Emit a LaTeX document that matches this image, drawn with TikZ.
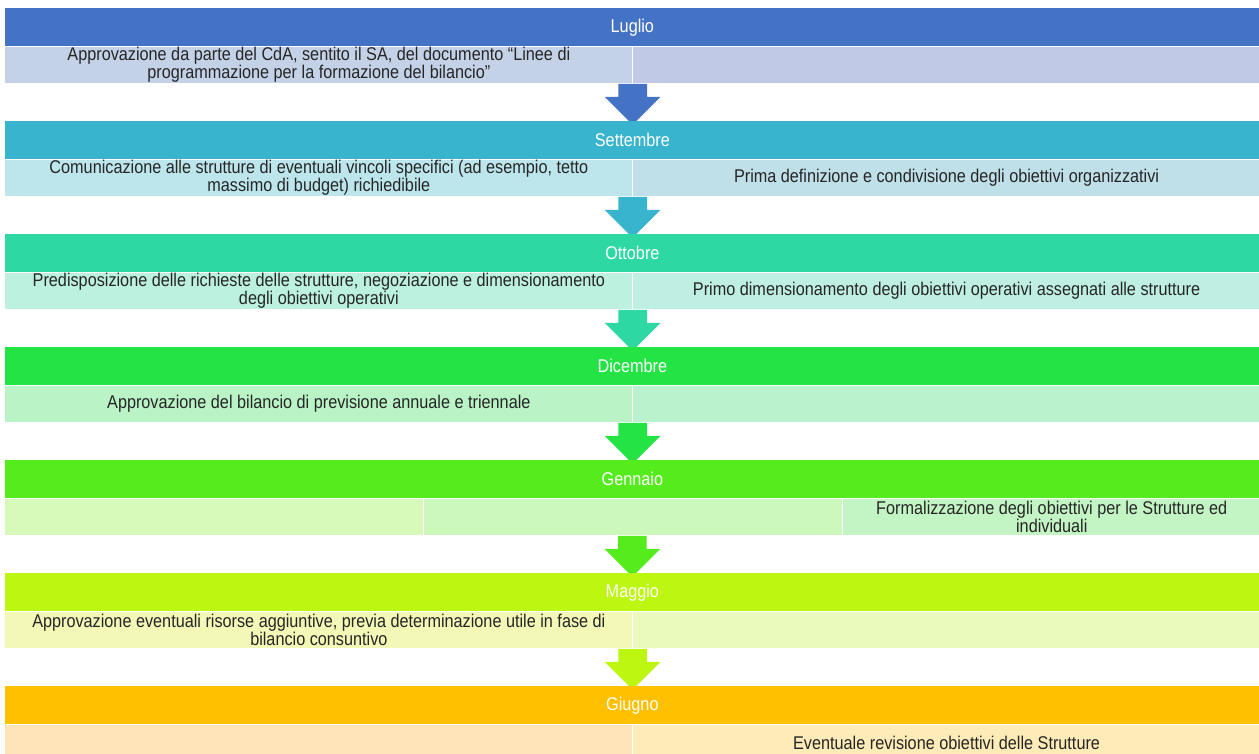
\documentclass[tikz,border=0pt]{standalone}
\usepackage{fontspec}
\setmainfont{Liberation Sans}[FakeStretch=0.88]
\usetikzlibrary{positioning, shapes.arrows}

\definecolor{lugBand}{HTML}{4472C4}
\definecolor{lugA}{HTML}{C4D2E8}
\definecolor{lugB}{HTML}{C0CAE6}
\definecolor{setBand}{HTML}{38B4CE}
\definecolor{setA}{HTML}{BCE6EC}
\definecolor{setB}{HTML}{BFDFE9}
\definecolor{ottBand}{HTML}{2ED8A3}
\definecolor{ottA}{HTML}{BDF1DF}
\definecolor{ottB}{HTML}{BEEFE2}
\definecolor{dicBand}{HTML}{24E445}
\definecolor{dicA}{HTML}{BAF3C5}
\definecolor{dicB}{HTML}{BBF2CE}
\definecolor{genBand}{HTML}{55EC1E}
\definecolor{genA}{HTML}{D7F9BA}
\definecolor{genB}{HTML}{CCF8BC}
\definecolor{genC}{HTML}{C3F5C4}
\definecolor{magBand}{HTML}{BDF611}
\definecolor{magA}{HTML}{F3F8B6}
\definecolor{magB}{HTML}{EAF9BC}
\definecolor{giuBand}{HTML}{FFC000}
\definecolor{giuA}{HTML}{FFE3B9}
\definecolor{giuB}{HTML}{FDEBB8}

\begin{document}
\begin{tikzpicture}[x=0.2mm, y=-0.2mm,
    % month bands and the cells below them
    band/.style={anchor=north west, minimum width=250.8mm, minimum height=7.6mm, inner sep=0pt, text=white, font=\fontsize{10.5}{10.2}\selectfont},
    cell/.style={anchor=north west, minimum height=7.2mm, inner sep=0pt, align=center, text=black!85, font=\fontsize{10.5}{10.2}\selectfont},
    half/.style={cell, minimum width=125.4mm},
    third/.style={cell, minimum width=83.6mm},
    % block arrow between two months
    darrow/.style={single arrow, rotate=-90, anchor=tail, minimum height=8.2mm, minimum width=11mm, single arrow head extend=2.7mm, inner xsep=0pt, inner ysep=2.8mm}]

\useasboundingbox (0,0) rectangle (1259,753);

% Luglio
\node[band, fill=lugBand] (lug) at (5,8) {Luglio};
\node[half, fill=lugA] (lugL) at (lug.south west) {Approvazione da parte del CdA, sentito il SA, del documento “Linee di\\programmazione per la formazione del bilancio”};
\node[half, fill=lugB] (lugR) at (lugL.north east) {};
\node[darrow, fill=lugBand] (a1) at (lugL.south east) {};

% Settembre
\node[band, fill=setBand] (set) at (5,121) {Settembre};
\node[half, fill=setA] (setL) at (set.south west) {Comunicazione alle strutture di eventuali vincoli specifici (ad esempio, tetto\\massimo di budget) richiedibile};
\node[half, fill=setB] (setR) at (setL.north east) {Prima definizione e condivisione degli obiettivi organizzativi};
\node[darrow, fill=setBand] (a2) at (setL.south east) {};

% Ottobre
\node[band, fill=ottBand] (ott) at (5,234) {Ottobre};
\node[half, fill=ottA] (ottL) at (ott.south west) {Predisposizione delle richieste delle strutture, negoziazione e dimensionamento\\degli obiettivi operativi};
\node[half, fill=ottB] (ottR) at (ottL.north east) {Primo dimensionamento degli obiettivi operativi assegnati alle strutture};
\node[darrow, fill=ottBand] (a3) at (ottL.south east) {};

% Dicembre
\node[band, fill=dicBand] (dic) at (5,347) {Dicembre};
\node[half, fill=dicA] (dicL) at (dic.south west) {Approvazione del bilancio di previsione annuale e triennale};
\node[half, fill=dicB] (dicR) at (dicL.north east) {};
\node[darrow, fill=dicBand] (a4) at (dicL.south east) {};

% Gennaio
\node[band, fill=genBand] (gen) at (5,460) {Gennaio};
\node[third, fill=genA] (genL) at (gen.south west) {};
\node[third, fill=genB] (genM) at (genL.north east) {};
\node[third, fill=genC] (genR) at (genM.north east) {Formalizzazione degli obiettivi per le Strutture ed\\individuali};
\node[darrow, fill=genBand] (a5) at (gen.south |- genL.south) {};

% Maggio
\node[band, fill=magBand] (mag) at (5,573) {Maggio};
\node[half, fill=magA] (magL) at (mag.south west) {Approvazione eventuali risorse aggiuntive, previa determinazione utile in fase di\\bilancio consuntivo};
\node[half, fill=magB] (magR) at (magL.north east) {};
\node[darrow, fill=magBand] (a6) at (magL.south east) {};

% Giugno
\node[band, fill=giuBand] (giu) at (5,686) {Giugno};
\node[half, fill=giuA] (giuL) at (giu.south west) {};
\node[half, fill=giuB] (giuR) at (giuL.north east) {Eventuale revisione obiettivi delle Strutture};

\end{tikzpicture}
\end{document}
